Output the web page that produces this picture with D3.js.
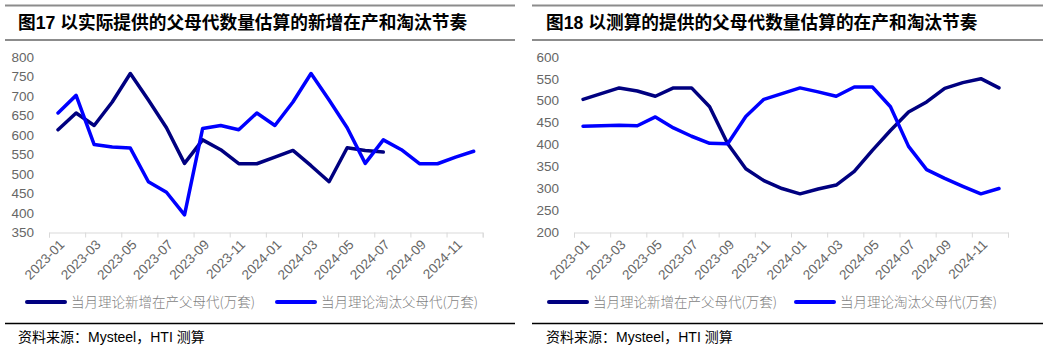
<!DOCTYPE html>
<html>
<head>
<meta charset="utf-8">
<script src="https://cdn.jsdelivr.net/npm/d3@7"></script>
<style>
  body { margin: 0; background: #fff; }
  svg { display: block; }
</style>
</head>
<body>
<script>
// Canvas size
const width = 1049;
const height = 351;

// Month categories shared by both charts
const months = [
  "2023-01","2023-02","2023-03","2023-04","2023-05","2023-06","2023-07","2023-08","2023-09","2023-10","2023-11","2023-12",
  "2024-01","2024-02","2024-03","2024-04","2024-05","2024-06","2024-07","2024-08","2024-09","2024-10","2024-11","2024-12"
];

// Chart 17 values (万套)
const leftNew = [613, 656, 624, 684, 757, 689, 618, 527, 587, 562, 526, 526, 543, 560, 521, 480, 567, 560, 556];
const leftOut = [656, 701, 575, 569, 566, 480, 453, 395, 616, 624, 613, 656, 624, 684, 757, 689, 618, 527, 587, 562, 526, 526, 543, 558];
const leftTicks = [350, 400, 450, 500, 550, 600, 650, 700, 750, 800];

// Chart 18 values (万套)
const rightNew = [503, 516, 529, 522, 510, 529, 529, 486, 402, 345, 318, 300, 288, 299, 308, 339, 387, 432, 474, 497, 528, 541, 550, 529];
const rightOut = [442, 443, 444, 443, 463, 438, 419, 403, 402, 464, 503, 516, 529, 520, 510, 531, 531, 486, 396, 343, 323, 305, 288, 300];
const rightTicks = [200, 250, 300, 350, 400, 450, 500, 550, 600];

const seriesNames = ["当月理论新增在产父母代(万套)", "当月理论淘汰父母代(万套)"];
const seriesColors = ["#000080", "#0000ff"];

const svg = d3.select("body").append("svg")
  .attr("width", width)
  .attr("height", height);

const latin = "'Liberation Sans', Arial, 'Noto Sans CJK SC', sans-serif";
const cjk = "'Noto Sans CJK SC', sans-serif";

// Draws one panel: header, plot, legend and source line
function drawPanel(opts) {
  const g = svg.append("g");

  // header rules and title
  [5.5, 40].forEach(yy => {
    g.append("line")
      .attr("x1", opts.frameX0).attr("x2", opts.frameX1)
      .attr("y1", yy).attr("y2", yy)
      .attr("stroke", "#8c8c8c")
      .attr("stroke-width", 2);
  });
  g.append("text")
    .attr("x", opts.titleX)
    .attr("y", 29)
    .style("font-family", latin)
    .style("font-weight", "bold")
    .style("font-size", "17.7px")
    .style("fill", "#000")
    .text(opts.title);

  // scales
  const x = d3.scaleBand()
    .domain(months)
    .range([opts.plotX0, opts.plotX1])
    .padding(0);
  const edge = d3.scaleLinear()
    .domain([0, months.length])
    .range([opts.plotX0, opts.plotX1]);
  const y = d3.scaleLinear()
    .domain([opts.ticks[0], opts.ticks[opts.ticks.length - 1]])
    .range([232.5, 56.7]);

  // y labels only
  const yAxis = g.append("g")
    .attr("transform", `translate(${opts.plotX0 - 15},0)`)
    .call(d3.axisLeft(y).tickValues(opts.ticks).tickSize(0).tickPadding(0));
  yAxis.select(".domain").remove();
  yAxis.selectAll("text")
    .style("font-family", latin)
    .style("font-size", "13.5px")
    .style("fill", "#666");

  // x axis: marks between every second month
  const xAxis = g.append("g")
    .attr("transform", `translate(0,232.5)`)
    .call(d3.axisBottom(edge)
      .tickValues(d3.range(0, months.length + 1, 2))
      .tickSize(5)
      .tickFormat(""));
  xAxis.selectAll("path, line").attr("stroke", "#d9d9d9");

  g.append("g")
    .selectAll("text")
    .data(months.filter((d, i) => i % 2 === 0))
    .join("text")
    .attr("transform", d => `translate(${x(d) + x.bandwidth() / 2 + 4},242) rotate(-45)`)
    .attr("text-anchor", "end")
    .attr("dy", "0.35em")
    .style("font-family", latin)
    .style("font-size", "13.5px")
    .style("fill", "#666")
    .text(d => d);

  // lines
  const line = d3.line()
    .x((d, i) => x(months[i]) + x.bandwidth() / 2)
    .y(d => y(d));
  opts.series.forEach((vals, k) => {
    g.append("path")
      .datum(vals)
      .attr("d", line)
      .attr("fill", "none")
      .attr("stroke", seriesColors[k])
      .attr("stroke-width", 3.5)
      .attr("stroke-linejoin", "round")
      .attr("stroke-linecap", "round");
  });

  // legend
  opts.legendX.forEach((lx, k) => {
    g.append("line")
      .attr("x1", lx).attr("x2", lx + 38)
      .attr("y1", 302).attr("y2", 302)
      .attr("stroke", seriesColors[k])
      .attr("stroke-width", 4)
      .attr("stroke-linecap", "round");
    g.append("text")
      .attr("x", lx + 44)
      .attr("y", 306.5)
      .style("font-family", cjk)
      .style("font-weight", 300)
      .style("font-size", "13.5px")
      .style("fill", "#7f7f7f")
      .text(seriesNames[k]);
  });

  // source rule and note
  g.append("line")
    .attr("x1", opts.frameX0).attr("x2", opts.frameX1)
    .attr("y1", 323.5).attr("y2", 323.5)
    .attr("stroke", "#000")
    .attr("stroke-width", 1.5);
  g.append("text")
    .attr("x", opts.titleX)
    .attr("y", 342)
    .style("font-family", latin)
    .style("font-size", "14px")
    .style("fill", "#000")
    .text("资料来源：Mysteel，HTI 测算");
}

drawPanel({
  title: "图17 以实际提供的父母代数量估算的新增在产和淘汰节奏",
  frameX0: 5, frameX1: 515, titleX: 18,
  plotX0: 49, plotX1: 482.7,
  ticks: leftTicks,
  series: [leftNew, leftOut],
  legendX: [27, 277]
});

drawPanel({
  title: "图18 以测算的提供的父母代数量估算的在产和淘汰节奏",
  frameX0: 532, frameX1: 1043, titleX: 546,
  plotX0: 574, plotX1: 1008,
  ticks: rightTicks,
  series: [rightNew, rightOut],
  legendX: [549, 796]
});
</script>
</body>
</html>
